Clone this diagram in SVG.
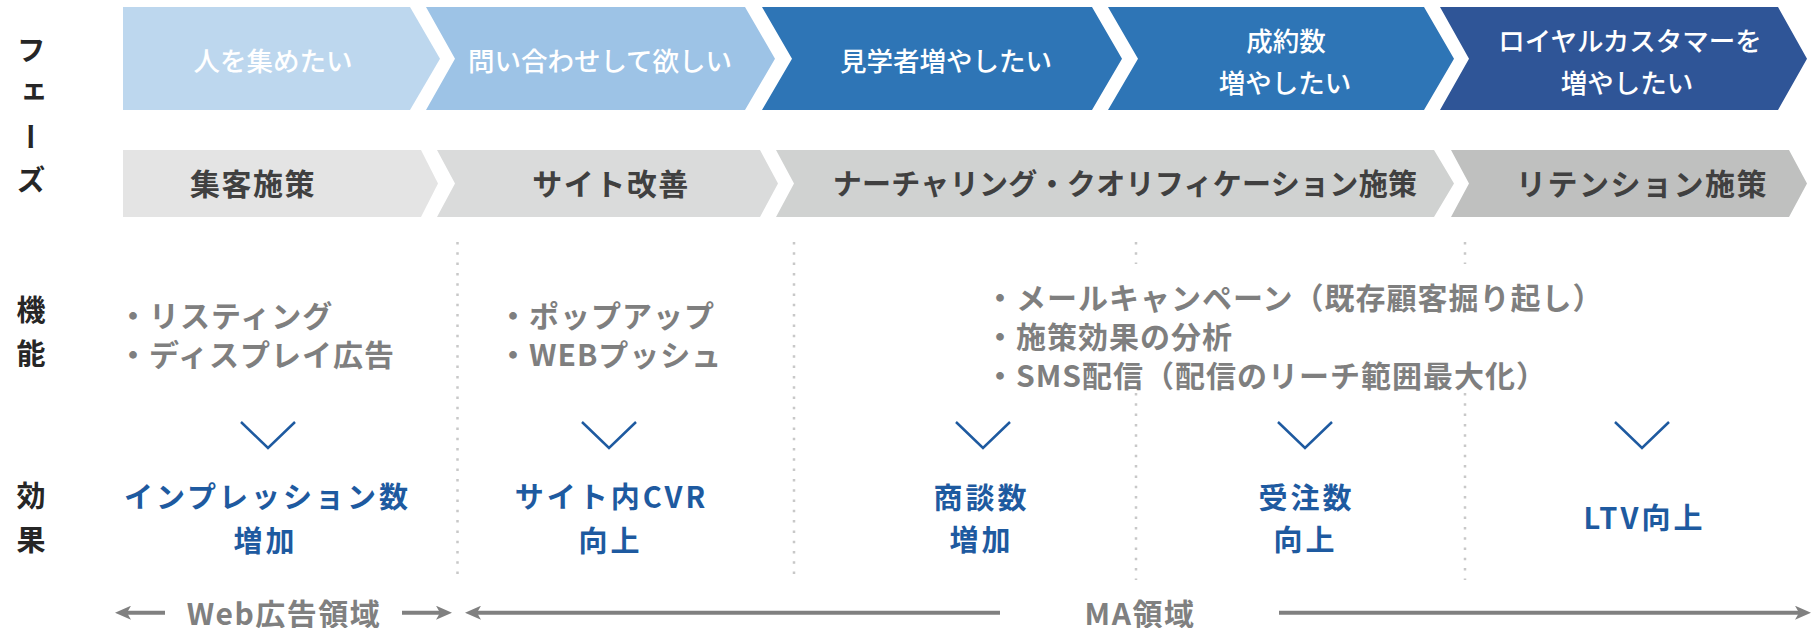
<svg xmlns="http://www.w3.org/2000/svg" width="1812" height="628" viewBox="0 0 1812 628">
  <style>
    text { font-family: 'Noto Sans CJK JP', 'Noto Sans', sans-serif; dominant-baseline: central; }
    .ph { fill: #ffffff; font-size: 26.5px; font-weight: 500; text-anchor: middle; }
    .ms { fill: #404040; font-size: 30px; font-weight: 700; text-anchor: middle; letter-spacing: 1.5px; }
    .lbl { fill: #262626; font-size: 29px; font-weight: 700; writing-mode: vertical-rl; }
    .fn { fill: #7f7f7f; font-size: 30px; font-weight: 700; letter-spacing: 1px; }
    .ef { fill: #1e5aa0; font-size: 29px; font-weight: 700; text-anchor: middle; letter-spacing: 3px; }
    .rg { fill: #808080; font-size: 30px; font-weight: 700; text-anchor: middle; letter-spacing: 1.5px; }
    .div { stroke: #c8c8c8; stroke-width: 2.5; stroke-dasharray: 2.5 7.8; fill: none; }
    .vee { stroke: #1e5aa0; stroke-width: 2.5; fill: none; }
    .ax { stroke: #808080; stroke-width: 4; fill: none; }
  </style>
  <defs>
    <marker id="ah" viewBox="0 0 16 14" markerWidth="16" markerHeight="14" refX="8" refY="7" orient="auto" markerUnits="userSpaceOnUse">
      <path d="M0,0 L16,7 L0,14 L4,7 Z" fill="#808080"/>
    </marker>
  </defs>

  <!-- axis labels -->
  <g id="label-phase"><text class="lbl" x="31" y="35" style="letter-spacing:14.5px">フェーズ</text></g>
  <g id="label-function"><text class="lbl" x="31" y="295" style="letter-spacing:15px">機能</text></g>
  <g id="label-effect"><text class="lbl" x="31" y="481" style="letter-spacing:15px">効果</text></g>

  <!-- phase row -->
  <g id="phase1">
    <path d="M123,7 L410,7 L440,58.7 L410,110 L123,110 Z" fill="#bdd7ee"/>
    <text class="ph" x="273" y="59">人を集めたい</text>
  </g>
  <g id="phase2">
    <path d="M426,7 L745,7 L775,58.7 L745,110 L426,110 L455,58.7 Z" fill="#9dc3e6"/>
    <text class="ph" x="600" y="59">問い合わせして欲しい</text>
  </g>
  <g id="phase3">
    <path d="M762,7 L1092,7 L1122,58.7 L1092,110 L762,110 L792,58.7 Z" fill="#2e75b6"/>
    <text class="ph" x="946" y="59">見学者増やしたい</text>
  </g>
  <g id="phase4">
    <path d="M1108,7 L1424,7 L1454,58.7 L1424,110 L1108,110 L1138,58.7 Z" fill="#2e75b6"/>
    <text class="ph" x="1286" y="39">成約数</text>
    <text class="ph" x="1285" y="81">増やしたい</text>
  </g>
  <g id="phase5">
    <path d="M1440,7 L1778,7 L1807,58.7 L1778,110 L1440,110 L1469,58.7 Z" fill="#2f5597"/>
    <text class="ph" x="1630" y="39">ロイヤルカスタマーを</text>
    <text class="ph" x="1627" y="81">増やしたい</text>
  </g>

  <!-- measure row -->
  <g id="measure1">
    <path d="M123,150 L421,150 L438,183.5 L421,217 L123,217 Z" fill="#e4e4e4"/>
    <text class="ms" x="253" y="182">集客施策</text>
  </g>
  <g id="measure2">
    <path d="M437,150 L760,150 L778,183.5 L760,217 L437,217 L455,183.5 Z" fill="#dadbdb"/>
    <text class="ms" x="611" y="182">サイト改善</text>
  </g>
  <g id="measure3">
    <path d="M776,150 L1434,150 L1454,183.5 L1434,217 L776,217 L794,183.5 Z" fill="#d0d2d1"/>
    <text class="ms" x="1125" y="182" style="font-size:29px;letter-spacing:0.3px">ナーチャリング・クオリフィケーション施策</text>
  </g>
  <g id="measure4">
    <path d="M1451,150 L1789,150 L1807,183.5 L1789,217 L1451,217 L1469,183.5 Z" fill="#bfc0bf"/>
    <text class="ms" x="1642" y="182">リテンション施策</text>
  </g>

  <!-- column dividers -->
  <g id="dividers">
    <line class="div" x1="457.5" y1="242" x2="457.5" y2="580"/>
    <line class="div" x1="794" y1="242" x2="794" y2="580"/>
    <line class="div" x1="1136" y1="242" x2="1136" y2="264"/>
    <line class="div" x1="1136" y1="393" x2="1136" y2="580"/>
    <line class="div" x1="1465" y1="242" x2="1465" y2="264"/>
    <line class="div" x1="1465" y1="393" x2="1465" y2="580"/>
  </g>

  <!-- functions -->
  <g id="function1">
    <text class="fn" x="118" y="314">・リスティング</text>
    <text class="fn" x="118" y="353">・ディスプレイ広告</text>
  </g>
  <g id="function2">
    <text class="fn" x="498" y="314">・ポップアップ</text>
    <text class="fn" x="498" y="353">・WEBプッシュ</text>
  </g>
  <g id="function3">
    <text class="fn" x="985" y="296">・メールキャンペーン（既存顧客掘り起し）</text>
    <text class="fn" x="985" y="335">・施策効果の分析</text>
    <text class="fn" x="985" y="374">・SMS配信（配信のリーチ範囲最大化）</text>
  </g>

  <!-- effects -->
  <g id="effect1">
    <text class="ef" x="267.5" y="495">インプレッション数</text>
    <text class="ef" x="265.5" y="539">増加</text>
  </g>
  <g id="effect2">
    <text class="ef" x="611.5" y="495">サイト内CVR</text>
    <text class="ef" x="610.5" y="539">向上</text>
  </g>
  <g id="effect3">
    <text class="ef" x="981.5" y="496">商談数</text>
    <text class="ef" x="981.5" y="538">増加</text>
  </g>
  <g id="effect4">
    <text class="ef" x="1306.5" y="496">受注数</text>
    <text class="ef" x="1305.5" y="538">向上</text>
  </g>
  <g id="effect5">
    <text class="ef" x="1644.5" y="516">LTV向上</text>
  </g>

  <!-- region labels -->
  <g id="region-web"><text class="rg" x="284" y="612">Web広告領域</text></g>
  <g id="region-ma"><text class="rg" x="1140" y="612">MA領域</text></g>

  <!-- connectors -->
  <g id="connectors">
    <path class="vee" d="M241,422 L268,448 L295,422"/>
    <path class="vee" d="M582,422 L609,448 L636,422"/>
    <path class="vee" d="M956,422 L983,448 L1010,422"/>
    <path class="vee" d="M1278,422 L1305,448 L1332,422"/>
    <path class="vee" d="M1615,422 L1642,448 L1669,422"/>
    <line class="ax" x1="165" y1="612.7" x2="123" y2="612.7" marker-end="url(#ah)"/>
    <line class="ax" x1="402" y1="612.7" x2="444" y2="612.7" marker-end="url(#ah)"/>
    <line class="ax" x1="1000" y1="612.7" x2="473" y2="612.7" marker-end="url(#ah)"/>
    <line class="ax" x1="1279" y1="612.7" x2="1803" y2="612.7" marker-end="url(#ah)"/>
  </g>
</svg>
